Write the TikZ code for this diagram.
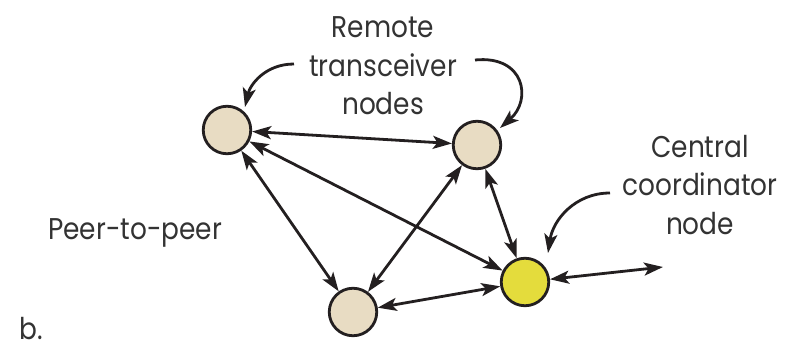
\documentclass[tikz,border=0pt]{standalone}
\usepackage{fontspec}
\setmainfont{Poppins}[FakeStretch=0.88]
\usetikzlibrary{arrows.meta}
\definecolor{ink}{HTML}{231F20}
\definecolor{txt}{HTML}{333333}
\definecolor{peer}{HTML}{E8DCC3}
\definecolor{hub}{HTML}{E4DC3C}
\tikzset{
  tip/.tip={Stealth[length=19pt,width=13pt,inset=4.5pt]},
  netnode/.style={circle, draw=ink, line width=2.8pt, minimum size=47.5pt, inner sep=0pt},
  link/.style={draw=ink, line width=2.8pt, {tip}-{tip}},
  pointer/.style={draw=ink, line width=2.8pt, -{tip}},
  label/.style={text=txt, inner sep=0pt, align=center, font={\fontsize{30}{38.5}\selectfont}}
}
\begin{document}
\begin{tikzpicture}[x=1pt, y=-1pt]
  \useasboundingbox (0,0) rectangle (798,345);

  % network nodes
  \node[netnode, fill=peer] (A) at (227,130) {};
  \node[netnode, fill=peer] (B) at (477,145) {};
  \node[netnode, fill=peer] (C) at (353,312) {};
  \node[netnode, fill=hub]  (D) at (525,282) {};
  \coordinate (out) at (663,267);

  % peer-to-peer links
  \draw[link] (A) -- (B);
  \draw[link] (A) -- (C);
  \draw[link] (A) -- (D);
  \draw[link] (B) -- (C);
  \draw[link] (B) -- (D);
  \draw[link] (C) -- (D);
  \draw[link] (D) -- (out);

  % labels
  \node[label] (remote) at (383,66) {Remote\\transceiver\\nodes};
  \node[label] (central) at (700,185) {Central\\coordinator\\node};
  \node[label, anchor=base west] (p2p) at (48,239) {Peer-to-peer};
  \node[label, anchor=base west] (sub) at (19,339) {b.};

  % label pointers
  \coordinate (rl) at (294,64);
  \coordinate (rr) at (475,60);
  \coordinate (cl) at (610,193);
  \draw[pointer] (rl) .. controls (265,64) and (250,85) .. (245,107);
  \draw[pointer] (rr) .. controls (525,55) and (532,100) .. (500,128);
  \draw[pointer] (cl) .. controls (575,193) and (553,220) .. (548,253);
\end{tikzpicture}
\end{document}
